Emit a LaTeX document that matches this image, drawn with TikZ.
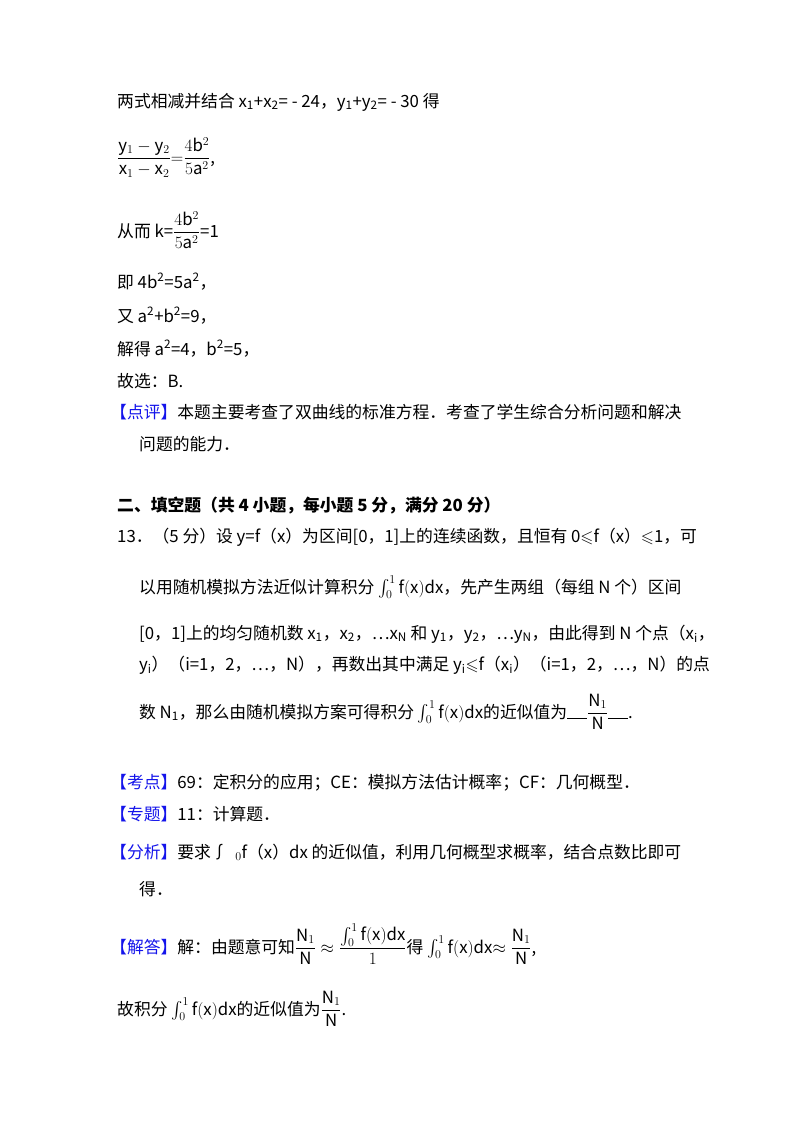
\documentclass[tikz,border=0pt]{standalone}
\usepackage{amsmath,amssymb}
\usepackage{fontspec}
\setmainfont{Noto Sans CJK SC}
\definecolor{bl}{RGB}{20,20,235}
\newcommand{\sub}[1]{\textsubscript{#1}}
\newcommand{\sups}[1]{\textsuperscript{#1}}
\newcommand{\bk}[1]{\textcolor{bl}{【#1】}}
\newcommand{\intf}{$\textstyle\int_0^1\mathrm{f}(\mathrm{x})\mathrm{dx}$}
\newcommand{\ul}{\rule[-1pt]{20pt}{0.6pt}}
\begin{document}
\begin{tikzpicture}[x=1pt,y=-1pt,every node/.style={anchor=base west,inner sep=0pt,font=\fontsize{16.8}{19}\selectfont}]
\useasboundingbox[fill=white] (0,0) rectangle (800,1132);
\node (l1) at (117,107) {两式相减并结合 x\sub{1}+x\sub{2}= - 24，y\sub{1}+y\sub{2}= - 30 得};
\node (l2) at (117,163) {$\dfrac{\mathrm{y}_1-\mathrm{y}_2}{\mathrm{x}_1-\mathrm{x}_2}{=}\dfrac{4\mathrm{b}^2}{5\mathrm{a}^2}$,};
\node (l3) at (117,237) {从而 k=$\dfrac{4\mathrm{b}^2}{5\mathrm{a}^2}$=1};
\node (l4) at (117,288) {即 4b\sups{2}=5a\sups{2}，};
\node (l5) at (117,322) {又 a\sups{2}+b\sups{2}=9，};
\node (l6) at (117,355) {解得 a\sups{2}=4，b\sups{2}=5，};
\node (l7) at (117,387) {故选：B.};
\node (l8) at (110,418) {\bk{点评}本题主要考查了双曲线的标准方程．考查了学生综合分析问题和解决};
\node (l9) at (139,450) {问题的能力．};
\node (l10) at (117,511) {\bfseries 二、填空题（共 4 小题，每小题 5 分，满分 20 分）};
\node (l11) at (117,542) {13．（5 分）设 y=f（x）为区间[0，1]上的连续函数，且恒有 0$\leqslant$f（x）$\leqslant$1，可};
\node (l12) at (139,593) {以用随机模拟方法近似计算积分 \intf，先产生两组（每组 N 个）区间};
\node (l13) at (139,639) {[0，1]上的均匀随机数 x\sub{1}，x\sub{2}，…x\sub{N} 和 y\sub{1}，y\sub{2}，…y\sub{N}，由此得到 N 个点（x\sub{i}，};
\node (l14) at (139,670) {y\sub{i}）（i=1，2，…，N），再数出其中满足 y\sub{i}$\leqslant$f（x\sub{i}）（i=1，2，…，N）的点};
\node (l15) at (139,718) {数 N\sub{1}，那么由随机模拟方案可得积分 \intf 的近似值为\ul$\dfrac{\mathrm{N}_1}{\mathrm{N}}$\ul.};
\node (l16) at (110,788) {\bk{考点}69：定积分的应用；CE：模拟方法估计概率；CF：几何概型．};
\node (l17) at (110,820) {\bk{专题}11：计算题．};
\node (l18) at (110,858) {\bk{分析}要求∫ \ $_0$f（x）dx 的近似值，利用几何概型求概率，结合点数比即可};
\node (l19) at (139,895) {得．};
\node (l20) at (110,953) {\bk{解答}解：由题意可知$\dfrac{\mathrm{N}_1}{\mathrm{N}}\approx\dfrac{\int_0^1\mathrm{f}(\mathrm{x})\mathrm{dx}}{1}$得 \intf$\approx\dfrac{\mathrm{N}_1}{\mathrm{N}}$,};
\node (l21) at (117,1015) {故积分 \intf 的近似值为$\dfrac{\mathrm{N}_1}{\mathrm{N}}$.};
\end{tikzpicture}
\end{document}
